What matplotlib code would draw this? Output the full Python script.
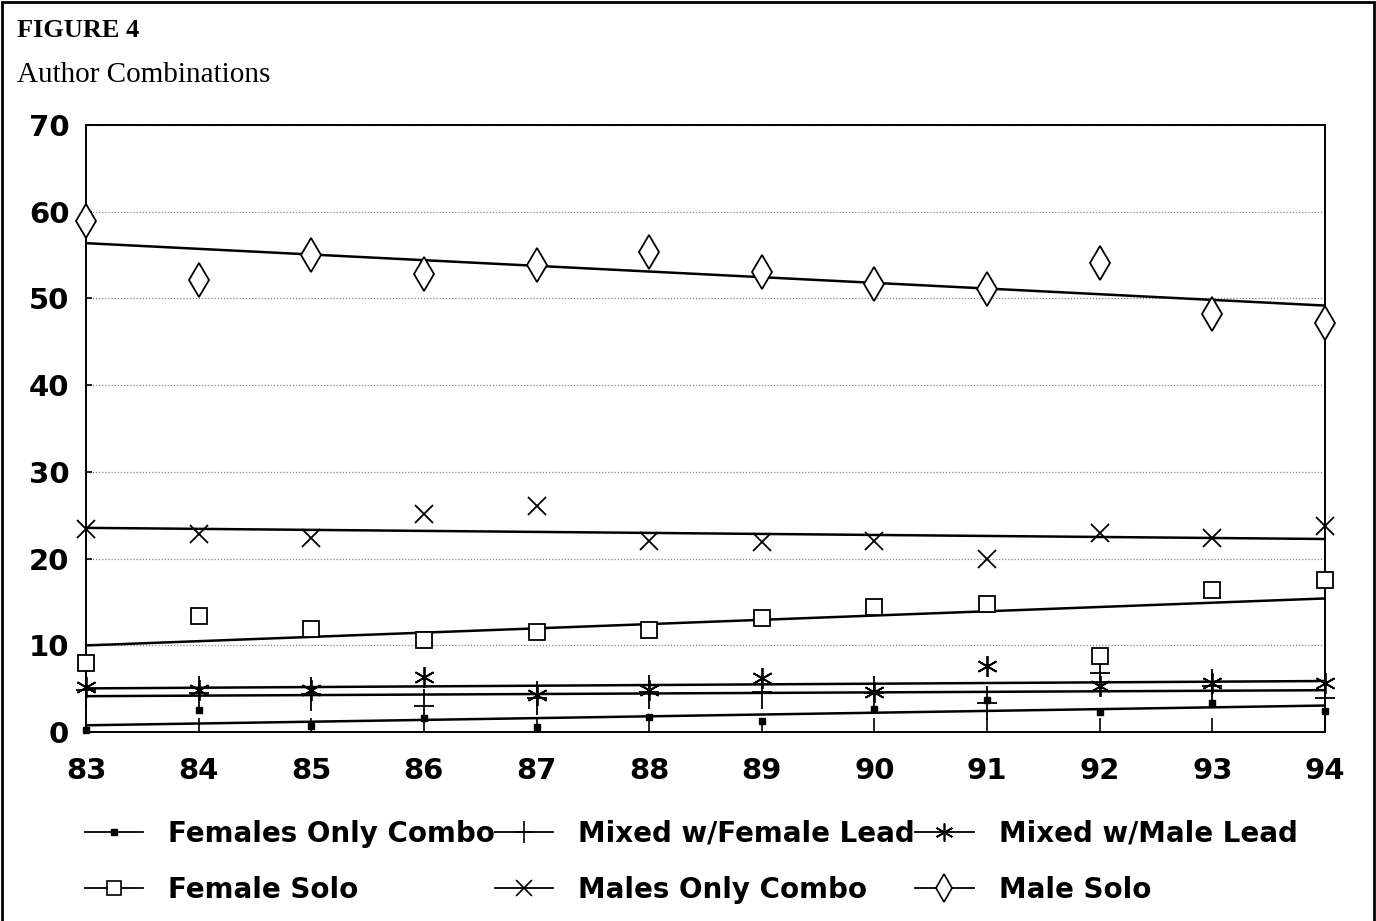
import numpy as np
import matplotlib
matplotlib.use("Agg")
import matplotlib.pyplot as plt
from matplotlib.path import Path
from matplotlib.lines import Line2D
from matplotlib.patches import Rectangle

# years (tick labels 83..94)
years = [83, 84, 85, 86, 87, 88, 89, 90, 91, 92, 93, 94]

# percentages
females_only_combo = [0.2, 2.5, 0.7, 1.6, 0.6, 1.7, 1.3, 2.6, 3.7, 2.25, 3.4, 2.4]
mixed_female_lead = [4.8, 4.5, 4.4, 3.0, 3.9, 4.6, 4.6, 4.5, 3.4, 6.8, 5.3, 3.9]
mixed_male_lead = [5.2, 4.9, 4.9, 6.4, 4.3, 4.8, 6.2, 4.6, 7.6, 5.35, 5.6, 5.6]
female_solo = [8.0, 13.4, 11.9, 10.6, 11.5, 11.8, 13.2, 14.4, 14.8, 8.8, 16.4, 17.5]
males_only_combo = [23.4, 22.8, 22.4, 25.1, 26.1, 22.0, 21.9, 22.0, 19.9, 23.0, 22.4, 23.8]
male_solo = [58.9, 52.1, 55.0, 52.8, 53.8, 55.3, 53.1, 51.7, 51.1, 54.1, 48.2, 47.2]

labels = ["Females Only Combo", "Mixed w/Female Lead", "Mixed w/Male Lead",
          "Female Solo", "Males Only Combo", "Male Solo"]

# tall thin plus like the old plotter marker
tall_plus = Path([(-0.3, 0), (0.3, 0), (0, -0.5), (0, 0.5)],
                 [Path.MOVETO, Path.LINETO, Path.MOVETO, Path.LINETO])
legend_plus = Path([(-0.4, 0), (0.4, 0), (0, -0.5), (0, 0.5)],
                   [Path.MOVETO, Path.LINETO, Path.MOVETO, Path.LINETO])

styles = [
    dict(marker="s", ms=5, mfc="black", mec="black", mew=1),
    dict(marker=tall_plus, ms=24, mfc="none", mec="black", mew=1.3),
    dict(marker=(6, 2, 0), ms=15, mfc="none", mec="black", mew=1.3),
    dict(marker="s", ms=12, mfc="white", mec="black", mew=1.3),
    dict(marker="x", ms=13, mfc="none", mec="black", mew=1.3),
    dict(marker="d", ms=17, mfc="white", mec="black", mew=1.3),
]
# legend symbols are drawn a little smaller
leg_styles = [
    dict(marker="s", ms=4, mfc="black", mec="black", mew=1),
    dict(marker=legend_plus, ms=16, mfc="none", mec="black", mew=1.2),
    dict(marker=(6, 2, 0), ms=13, mfc="none", mec="black", mew=1.2),
    dict(marker="s", ms=10, mfc="white", mec="black", mew=1.2),
    dict(marker="x", ms=11, mfc="none", mec="black", mew=1.2),
    dict(marker="d", ms=14, mfc="white", mec="black", mew=1.2),
]
series = [females_only_combo, mixed_female_lead, mixed_male_lead,
          female_solo, males_only_combo, male_solo]

fig = plt.figure(figsize=(13.76, 9.21), dpi=100)
ax = fig.add_axes([86 / 1376, 1 - 732 / 921, (1325 - 86) / 1376, (732 - 125) / 921])

x = np.array(years, dtype=float)
for vals, st in zip(series, styles):
    k, b = np.polyfit(x, vals, 1)
    ax.plot([x[0], x[-1]], [k * x[0] + b, k * x[-1] + b], color="black", lw=1.8,
            zorder=2, solid_capstyle="butt")
    ax.plot(x, vals, ls="none", zorder=3, clip_on=False, **st)

ax.set_xlim(83, 94)
ax.set_ylim(0, 70)
ax.set_xticks(years)
ax.set_xticklabels([str(y) for y in years])
ax.set_yticks(range(0, 71, 10))
ax.tick_params(axis="x", direction="in", length=10, width=1.2, pad=18,
               labelsize=21)
ax.tick_params(axis="y", direction="in", length=4, width=1.2, pad=12,
               labelsize=21)
for lab in ax.get_xticklabels() + ax.get_yticklabels():
    lab.set_fontweight("bold")
    lab.set_family("DejaVu Sans")
ax.grid(axis="y", ls=(0, (1, 1.5)), color="#888888", lw=0.9)
ax.set_axisbelow(True)
for sp in ax.spines.values():
    sp.set_linewidth(1.4)

# legend in row order, matplotlib fills columns first
handles = [Line2D([], [], color="black", lw=1.3, **st) for st in leg_styles]
order = [0, 3, 1, 4, 2, 5]
leg = fig.legend([handles[i] for i in order], [labels[i] for i in order],
                 ncol=3, loc="upper left", bbox_to_anchor=(71 / 1376, 1 - 806 / 921),
                 frameon=False, borderpad=0, handlelength=2.1, handletextpad=0.9,
                 columnspacing=0.0, labelspacing=1.0,
                 prop={"family": "DejaVu Sans", "weight": "bold", "size": 20})

fig.text(17 / 1376, 1 - 37 / 921, "FIGURE 4", family="Liberation Serif",
         weight="bold", fontsize=19, va="baseline")
fig.text(17 / 1376, 1 - 82 / 921, "Author Combinations", family="Liberation Serif",
         fontsize=21, va="baseline")

fig.patches.append(Rectangle((2 / 1376, -0.05), 1 - 4 / 1376, 1.05 - 2 / 921,
                             transform=fig.transFigure, fill=False, lw=2,
                             edgecolor="black"))

fig.savefig("out.png", dpi=100)
